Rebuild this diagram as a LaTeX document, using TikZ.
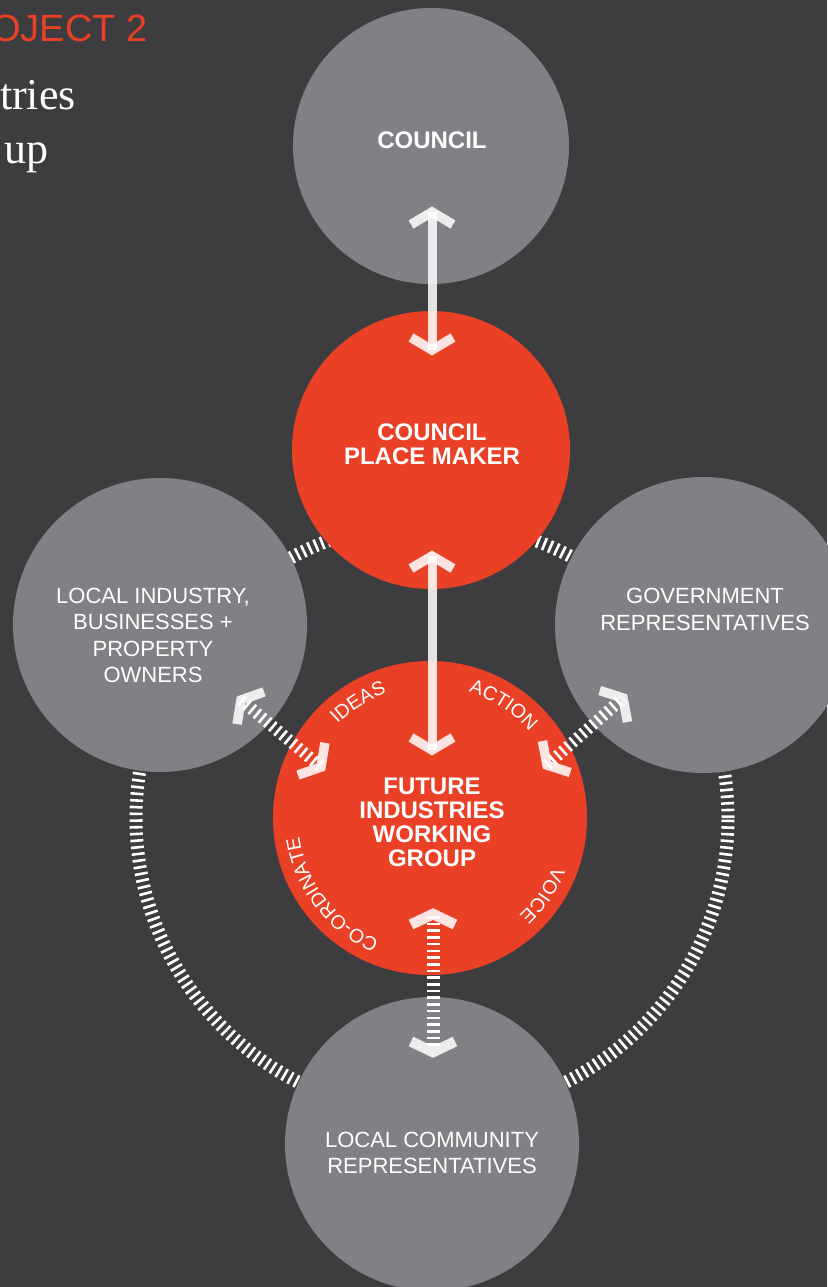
\documentclass[tikz,border=0pt]{standalone}
\usepackage{fontspec}
\newfontfamily\hv{Liberation Sans}
\newfontfamily\tms{Liberation Serif}
\usetikzlibrary{decorations.text,calc}
\definecolor{bg}{RGB}{61,61,63}
\definecolor{cgray}{RGB}{128,129,132}
\definecolor{cred}{RGB}{234,64,38}
\begin{document}
\begin{tikzpicture}[x=1pt,y=1pt,
  disc/.style={circle, inner sep=0pt, minimum size=#1, draw=none},
  gdisc/.style={disc=#1, fill=cgray},
  rdisc/.style={disc=#1, fill=cred},
  lbl/.style={anchor=base, inner sep=0pt, text=white, font=\hv\fontsize{22}{26}\selectfont},
  blbl/.style={anchor=base, inner sep=0pt, text=white, font=\hv\bfseries\fontsize{24}{24}\selectfont},
  shaft/.style={draw=white, draw opacity=0.86, line width=9pt},
  chevline/.style={draw=white, draw opacity=0.86, line width=#1, line join=miter, line cap=butt},
  stripes/.style={draw=white, line width=#1, dash pattern=on 2.6pt off 4.1pt},
  chev/.pic={\draw[chevline=9.5pt] (-12.5,21) -- (0,0) -- (-12.5,-21);},
  chevB/.pic={\draw[chevline=10.5pt] (-10.5,22) -- (0,0) -- (-10.5,-22);},
  arclbl/.style={decorate, decoration={text along path, text align=center, text color=white, text={|\hv\fontsize{19.5}{20}\selectfont|#1}}},
]
\useasboundingbox (0,0) rectangle (827,-1287);
\fill[bg] (0,0) rectangle (827,-1287);

% ring behind the discs
\coordinate (ringc) at (432,-818);
\draw[stripes=13pt] (ringc) circle[radius=296];

% discs
\node[gdisc=276pt] (council) at (431,-146) {};
\node[rdisc=278pt] (place) at (431,-450) {};
\node[gdisc=294pt] (local) at (160,-625) {};
\node[gdisc=296pt] (gov) at (703,-625) {};
\node[rdisc=314pt] (future) at (430,-818) {};
\node[gdisc=294pt] (community) at (432,-1144) {};

% header texts
\node[anchor=base west, inner sep=0pt, text=cred, font=\hv\fontsize{38}{42}\selectfont] (proj) at (-9,-42) {OJECT 2};
\node[anchor=base east, inner sep=0pt, text=white, font=\tms\fontsize{44}{50}\selectfont] (title1) at (76,-110) {tries};
\node[anchor=base east, inner sep=0pt, text=white, font=\tms\fontsize{44}{50}\selectfont] (title2) at (49,-163) {up};

% disc labels
\node[blbl] (tc1) at (432,-148) {COUNCIL};
\node[blbl] (tp1) at (432,-440) {COUNCIL};
\node[blbl] (tp2) at (432,-464) {PLACE MAKER};
\node[lbl] (tl1) at (153,-603) {LOCAL INDUSTRY,};
\node[lbl] (tl2) at (153,-629.5) {BUSINESSES +};
\node[lbl] (tl3) at (153,-656) {PROPERTY};
\node[lbl] (tl4) at (153,-682) {OWNERS};
\node[lbl] (tg1) at (705,-603.5) {GOVERNMENT};
\node[lbl] (tg2) at (705,-630) {REPRESENTATIVES};
\node[blbl] (tf1) at (432,-794) {FUTURE};
\node[blbl] (tf2) at (432,-818) {INDUSTRIES};
\node[blbl] (tf3) at (432,-842) {WORKING};
\node[blbl] (tf4) at (432,-866) {GROUP};
\node[lbl] (tm1) at (432,-1147) {LOCAL COMMUNITY};
\node[lbl] (tm2) at (432,-1173) {REPRESENTATIVES};

% curved labels on the working group disc
\path[arclbl=IDEAS] ($(future.center)+(151.8:132)$) arc[start angle=151.8, end angle=91.8, radius=132];
\path[arclbl=ACTION] ($(future.center)+(87:132)$) arc[start angle=87, end angle=27, radius=132];
\path[arclbl=VOICE] ($(future.center)+(0:132)$) arc[start angle=0, end angle=-69, radius=132];
\path[arclbl=CO-ORDINATE] ($(future.center)+(257.8:132)$) arc[start angle=257.8, end angle=177.8, radius=132];

% arrow council <-> place maker
\coordinate (a1t) at (432,-212);
\coordinate (a1b) at (432,-350);
\draw[shaft] (a1t) -- (a1b);
\pic[rotate=90] at (a1t) {chev};
\pic[rotate=-90] at (a1b) {chev};

% arrow place maker <-> working group
\coordinate (a2t) at (432,-556);
\coordinate (a2b) at (432,-750);
\draw[shaft] (a2t) -- (a2b);
\pic[rotate=90] at (a2t) {chev};
\pic[rotate=-90] at (a2b) {chev};

% dashed arrow working group <-> community
\coordinate (a3t) at (433,-914);
\coordinate (a3b) at (433,-1052);
\draw[stripes=13pt] (433,-916) -- (433,-1050);
\pic[rotate=90] at (a3t) {chevB};
\pic[rotate=-90] at (a3b) {chevB};

% dashed arrow local industry <-> working group
\coordinate (a4l) at (241,-700);
\coordinate (a4f) at (321,-767);
\draw[stripes=12pt] (a4l) -- (a4f);
\pic[rotate=140] at (a4l) {chev};
\pic[rotate=-40] at (a4f) {chev};

% dashed arrow working group <-> government
\coordinate (a5g) at (623,-698);
\coordinate (a5f) at (547,-765);
\draw[stripes=12pt] (a5f) -- (a5g);
\pic[rotate=41.4] at (a5g) {chev};
\pic[rotate=221.4] at (a5f) {chev};
\end{tikzpicture}
\end{document}
